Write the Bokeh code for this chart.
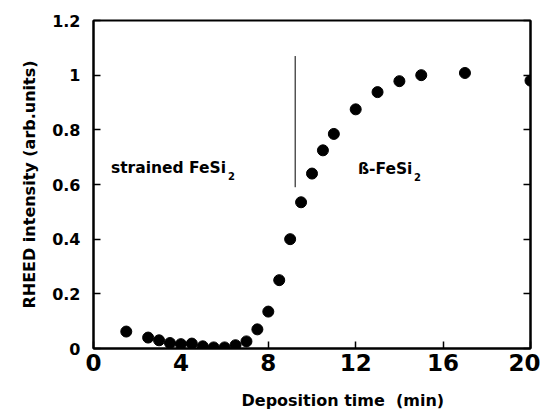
from bokeh.plotting import figure
from bokeh.models import LinearAxis, Range1d, FixedTicker, Label, Title
from bokeh.embed import file_html
from bokeh.resources import INLINE

time_min = [1.5, 2.5, 3.0, 3.5, 4.0, 4.5, 5.0, 5.5, 6.0, 6.5, 7.0, 7.5, 8.0, 8.5,
            9.0, 9.5, 10.0, 10.5, 11.0, 12.0, 13.0, 14.0, 15.0, 17.0, 20.0]
intensity = [0.062, 0.040, 0.030, 0.020, 0.016, 0.018, 0.008, 0.004, 0.004, 0.012,
             0.026, 0.070, 0.135, 0.250, 0.400, 0.535, 0.640, 0.725, 0.785,
             0.875, 0.938, 0.978, 1.000, 1.008, 0.980]
x_ticks = [0, 4, 8, 12, 16, 20]
y_ticks = [0, 0.2, 0.4, 0.6, 0.8, 1.0, 1.2]
y_tick_labels = ["0", "0.2", "0.4", "0.6", "0.8", "1", "1.2"]
boundary_time = 9.23
boundary_span = [0.59, 1.07]

FONT = "DejaVu Sans"
INK = "black"

p = figure(width=540, height=409, output_backend="svg", toolbar_location=None,
           x_range=Range1d(0, 20), y_range=Range1d(0, 1.2),
           min_border_left=93, min_border_right=10, min_border_top=20, min_border_bottom=20,
           y_axis_label="RHEED intensity (arb.units)")
p.grid.visible = False
p.outline_line_color = INK
p.outline_line_width = 2

# bottom axis
xa = p.xaxis[0]
xa.ticker = FixedTicker(ticks=x_ticks)
xa.major_tick_in = 7
xa.major_tick_out = 0
xa.minor_tick_line_color = None
xa.axis_line_width = 2
xa.major_tick_line_width = 1.5
xa.major_label_text_font = FONT
xa.major_label_text_font_style = "bold"
xa.major_label_text_font_size = "23px"
xa.major_label_text_color = INK
xa.major_label_standoff = 5
# invisible spacer label to push the title down
xa.axis_label = "\u00a0"
xa.axis_label_text_font_size = "1px"
xa.axis_label_standoff = 11

# x axis title, shifted right of centre as in the reference
p.add_layout(Title(text="Deposition time\u00a0 (min)", align="left", offset=148,
                   text_font=FONT, text_font_style="bold", text_font_size="16px",
                   text_color=INK, standoff=0), "below")

# left axis
ya = p.yaxis[0]
ya.ticker = FixedTicker(ticks=y_ticks)
ya.major_label_overrides = {t: s for t, s in zip(y_ticks, y_tick_labels)}
ya.major_tick_in = 7
ya.major_tick_out = 0
ya.minor_tick_line_color = None
ya.axis_line_width = 2
ya.major_tick_line_width = 1.5
ya.major_label_text_font = FONT
ya.major_label_text_font_style = "bold"
ya.major_label_text_font_size = "16px"
ya.major_label_text_color = INK
ya.major_label_standoff = 13
ya.axis_label_text_font = FONT
ya.axis_label_text_font_style = "bold"
ya.axis_label_text_font_size = "16px"
ya.axis_label_text_color = INK
ya.axis_label_standoff = 10

# right axis (ticks only)
ra = LinearAxis(ticker=FixedTicker(ticks=y_ticks), major_tick_in=7, major_tick_out=0,
                minor_tick_line_color=None, major_label_text_color=None,
                major_label_text_font_size="1px",
                axis_line_width=2, major_tick_line_width=1.5)
p.add_layout(ra, "right")

p.scatter(time_min, intensity, size=11, color=INK)

p.line([boundary_time, boundary_time], boundary_span, line_color=INK, line_width=1)

p.add_layout(Label(x=0.8, y=0.662, text="strained FeSi", text_font=FONT, text_color=INK,
                   text_font_style="bold", text_font_size="15.5px", text_baseline="alphabetic"))
p.add_layout(Label(x=0.8, y=0.662, x_offset=117, y_offset=-8, text="2", text_font=FONT,
                   text_color=INK, text_font_style="bold", text_font_size="10px",
                   text_baseline="alphabetic"))
p.add_layout(Label(x=12.1, y=0.655, text="ß-FeSi", text_font=FONT, text_color=INK,
                   text_font_style="bold", text_font_size="15.5px", text_baseline="alphabetic"))
p.add_layout(Label(x=12.1, y=0.655, x_offset=56, y_offset=-8, text="2", text_font=FONT,
                   text_color=INK, text_font_style="bold", text_font_size="10px",
                   text_baseline="alphabetic"))

open("out.html", "w").write(file_html(p, INLINE))
